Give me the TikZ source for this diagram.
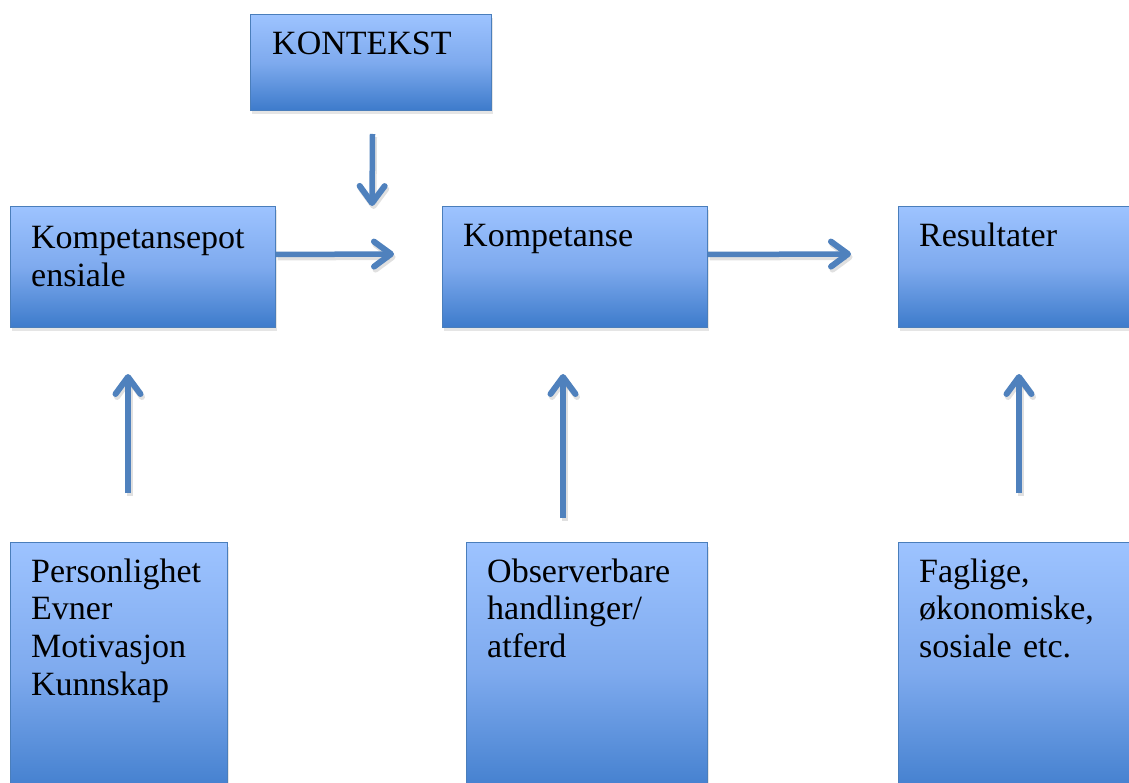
\documentclass[tikz,border=0pt]{standalone}
\usepackage{fontspec}
\setmainfont{Liberation Serif}
\usetikzlibrary{arrows.meta,shadows}
\definecolor{boxtop}{HTML}{9DC3FF}
\definecolor{boxmid}{HTML}{7EAAEE}
\definecolor{boxbot}{HTML}{3D7BCB}
\definecolor{edgec}{HTML}{4A7EBB}
\definecolor{arrc}{HTML}{4F81BD}
\begin{document}
\begin{tikzpicture}[x=1pt,y=-1pt,
  box/.style={rectangle, draw=edgec, line width=1pt, top color=boxtop, bottom color=boxbot, middle color=boxmid,
    anchor=north west, inner sep=0pt,
    drop shadow={shadow xshift=1.5pt, shadow yshift=-4pt, opacity=0.2}},
  txt/.style={anchor=base west, inner sep=0pt, font=\fontsize{34}{37.7}\selectfont, align=left, text width=280pt},
  conn/.style={draw=arrc, line width=5.5pt,
    -{Straight Barb[length=17pt,width=25pt,line width=6pt,round]},
    preaction={draw=black, draw opacity=0.12, line width=6pt, transform canvas={xshift=1.5pt,yshift=-3pt},
      -{Straight Barb[length=17pt,width=25pt,line width=6pt,round]}}}]
\clip (0,0) rectangle (1129,783);
\fill[white] (0,0) rectangle (1129,783);
% boxes
\node[box, minimum width=241pt, minimum height=96pt] (kon) at (250,14) {};
\node[box, minimum width=265pt, minimum height=121pt] (kpot) at (10,206) {};
\node[box, minimum width=265pt, minimum height=121pt] (komp) at (442,206) {};
\node[box, minimum width=265pt, minimum height=121pt] (res) at (898,206) {};
\node[box, minimum width=217pt, minimum height=260pt] (pers) at (10,542) {};
\node[box, minimum width=241pt, minimum height=260pt] (obs) at (466,542) {};
\node[box, minimum width=265pt, minimum height=260pt] (fag) at (898,542) {};
% texts
\node[txt] (tkon) at (272,55) {KONTEKST};
\node[txt] (tkpot) at (31,249) {Kompetansepot\\ensiale};
\node[txt] (tkomp) at (463,247) {Kompetanse};
\node[txt] (tres) at (919,247) {Resultater};
\node[txt] (tpers) at (31,582) {Personlighet\\Evner\\Motivasjon\\Kunnskap};
\node[txt] (tobs) at (487,582) {Observerbare\\handlinger/\\atferd};
\node[txt] (tfag) at (919,582) {Faglige,\\økonomiske,\\sosiale etc.};
% connector ends
\coordinate (dnEnd) at (372,206);
\coordinate (r1End) at (394,254);
\coordinate (r2End) at (851,254);
\coordinate (u1s) at (128,493);
\coordinate (u1e) at (128,374);
\coordinate (u2s) at (563,518);
\coordinate (u2e) at (563,374);
\coordinate (u3s) at (1019,493);
\coordinate (u3e) at (1019,374);
% connectors
\draw[conn] ([xshift=1.5pt,yshift=-23pt]kon.south) -- (dnEnd);
\draw[conn] ([yshift=12.5pt]kpot.east) -- (r1End);
\draw[conn] ([yshift=12.5pt]komp.east) -- (r2End);
\draw[conn] (u1s) -- (u1e);
\draw[conn] (u2s) -- (u2e);
\draw[conn] (u3s) -- (u3e);
\end{tikzpicture}
\end{document}
